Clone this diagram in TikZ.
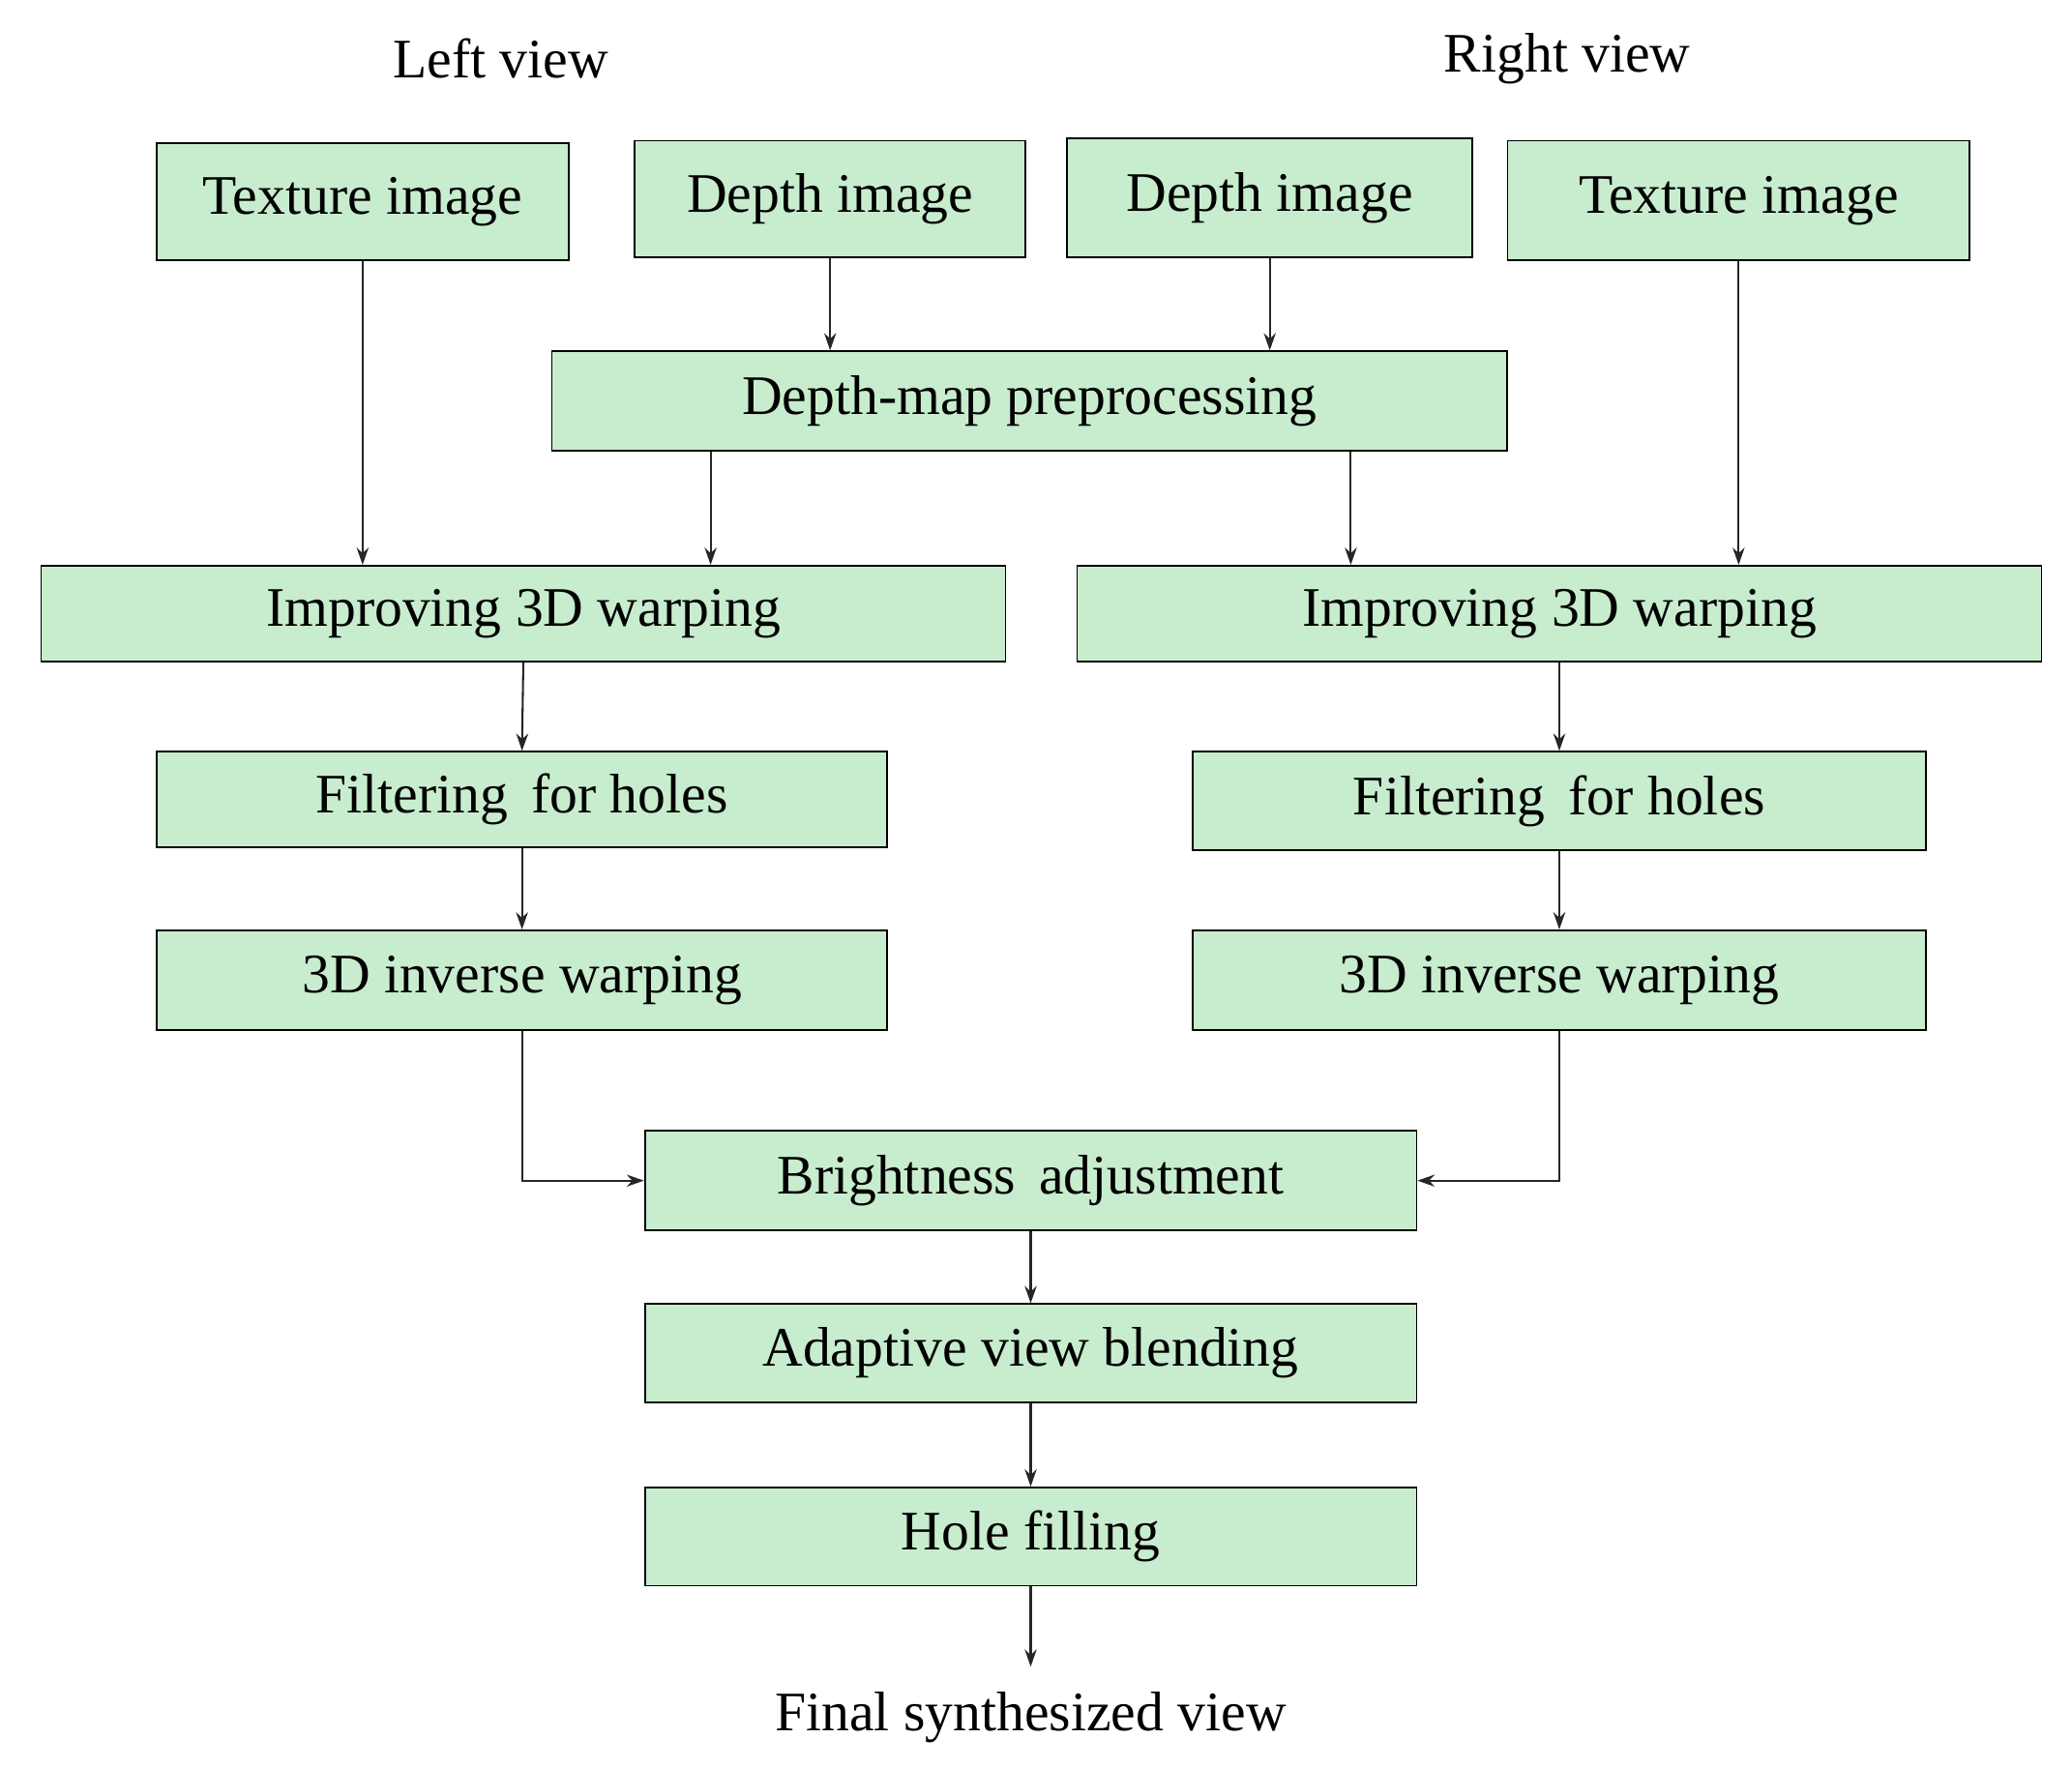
\documentclass[tikz,border=0pt]{standalone}
\usepackage{fontspec}
\setmainfont{Liberation Serif}
\usetikzlibrary{arrows.meta}
\definecolor{boxg}{RGB}{200,236,206}
\begin{document}
\begin{tikzpicture}[x=1pt,y=-1pt,
  box/.style={draw=black,line width=1.3pt,fill=boxg,inner sep=0pt,font=\fontsize{42}{50}\selectfont},
  lab/.style={inner sep=0pt,font=\fontsize{42}{50}\selectfont},
  arr/.style={draw=black!85,line width=1.5pt,-{Stealth[length=13pt,width=9pt]}}]
\useasboundingbox (0,0) rectangle (1560,1331);
\node[lab] (lv) at (377,44) {Left view};
\node[lab] (rv) at (1180,44) {Right view};
\node[box,minimum width=310pt,minimum height=88pt] (tl) at (273,152) {Texture image};
\node[box,minimum width=294pt,minimum height=88pt] (dl) at (625,150) {Depth image};
\node[box,minimum width=305pt,minimum height=90pt] (dr) at (956,149) {Depth image};
\node[box,minimum width=348pt,minimum height=90pt] (tr) at (1309,151) {Texture image};
\node[box,minimum width=719pt,minimum height=75pt] (pp) at (775,302) {Depth-map preprocessing};
\node[box,minimum width=726pt,minimum height=72pt] (il) at (394,462) {Improving 3D warping};
\node[box,minimum width=726pt,minimum height=72pt] (ir) at (1174,462) {Improving 3D warping};
\node[box,minimum width=550pt,minimum height=72pt] (fl) at (393,602) {Filtering\, for holes};
\node[box,minimum width=552pt,minimum height=74pt] (fr) at (1174,603) {Filtering\, for holes};
\node[box,minimum width=550pt,minimum height=75pt] (vl) at (393,738) {3D inverse warping};
\node[box,minimum width=552pt,minimum height=75pt] (vr) at (1174,738) {3D inverse warping};
\node[box,minimum width=581pt,minimum height=75pt] (ba) at (776,889) {Brightness\, adjustment};
\node[box,minimum width=581pt,minimum height=74pt] (ab) at (776,1019) {Adaptive view blending};
\node[box,minimum width=581pt,minimum height=74pt] (hf) at (776,1157) {Hole filling};
\node[lab] (fs) at (776,1293) {Final synthesized view};
\coordinate (fe) at (776,1255);
\draw[arr] (tl.south) -- (tl.south |- il.north);
\draw[arr] (dl.south) -- (dl.south |- pp.north);
\draw[arr] (dr.south) -- (dr.south |- pp.north);
\draw[arr] (tr.south) -- (tr.south |- ir.north);
\draw[arr] (pp.south -| 535,0) -- (il.north -| 535,0);
\draw[arr] (pp.south -| 1017,0) -- (ir.north -| 1017,0);
\draw[arr] (il.south) -- (fl.north);
\draw[arr] (ir.south) -- (fr.north);
\draw[arr] (fl.south) -- (vl.north);
\draw[arr] (fr.south) -- (vr.north);
\draw[arr] (vl.south) |- (ba.west);
\draw[arr] (vr.south) |- (ba.east);
\draw[arr] (ba.south) -- (ab.north);
\draw[arr] (ab.south) -- (hf.north);
\draw[arr] (hf.south) -- (fe);
\end{tikzpicture}
\end{document}
